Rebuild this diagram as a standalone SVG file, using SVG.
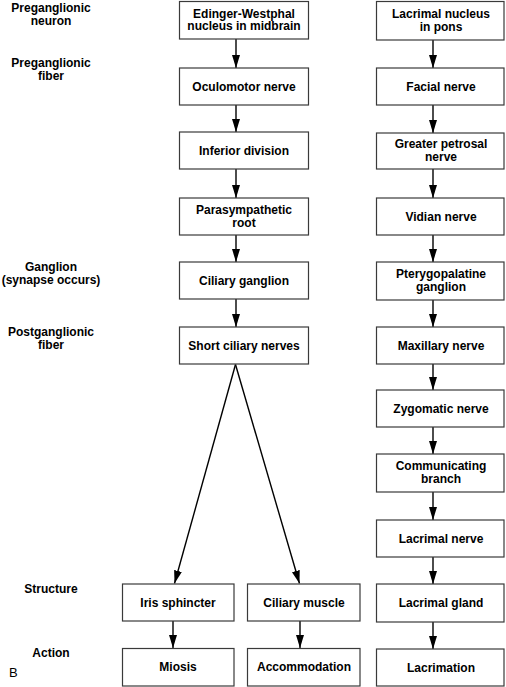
<svg xmlns="http://www.w3.org/2000/svg" width="506" height="687" viewBox="0 0 506 687">
<style>
  .box { fill: #fff; stroke: #3a3a3a; stroke-width: 1.2; }
  .t { font-family: "Liberation Sans", Arial, sans-serif; font-size: 12px; font-weight: bold; fill: #000; text-anchor: middle; }
  .lbl { font-family: "Liberation Sans", Arial, sans-serif; font-size: 12px; font-weight: bold; fill: #000; text-anchor: middle; }
  .conn { stroke: #000; stroke-width: 1.4; fill: none; marker-end: url(#ah); }
</style>
<defs>
  <marker id="ah" markerUnits="userSpaceOnUse" markerWidth="13" markerHeight="8" refX="13" refY="4" orient="auto">
    <path d="M0,0 L13,4 L0,8 z" fill="#000"/>
  </marker>
</defs>
<rect width="506" height="687" fill="#fff"/>

<g id="row-labels">
  <text class="lbl" x="51" y="12">Preganglionic</text>
  <text class="lbl" x="51" y="24.5">neuron</text>
  <text class="lbl" x="51" y="67">Preganglionic</text>
  <text class="lbl" x="51" y="79.5">fiber</text>
  <text class="lbl" x="51" y="271">Ganglion</text>
  <text class="lbl" x="51" y="284">(synapse occurs)</text>
  <text class="lbl" x="51" y="336">Postganglionic</text>
  <text class="lbl" x="51" y="348.7">fiber</text>
  <text class="lbl" x="51" y="592.6">Structure</text>
  <text class="lbl" x="51" y="657.3">Action</text>
  <text x="9" y="677" font-family="Liberation Sans, Arial, sans-serif" font-size="13" fill="#000">B</text>
</g>

<g id="connectors">
  <line class="conn" x1="236" y1="39" x2="236" y2="68"/>
  <line class="conn" x1="236" y1="105" x2="236" y2="132"/>
  <line class="conn" x1="236" y1="169" x2="236" y2="198"/>
  <line class="conn" x1="236" y1="235" x2="236" y2="262"/>
  <line class="conn" x1="236" y1="299" x2="236" y2="327"/>
  <line class="conn" x1="235.5" y1="364.5" x2="174.5" y2="583.5"/>
  <line class="conn" x1="235.5" y1="364.5" x2="299.5" y2="583.5"/>
  <line class="conn" x1="173" y1="621" x2="173" y2="648"/>
  <line class="conn" x1="300" y1="621" x2="300" y2="648"/>
  <line class="conn" x1="433" y1="40" x2="433" y2="68"/>
  <line class="conn" x1="433" y1="105" x2="433" y2="133"/>
  <line class="conn" x1="433" y1="169" x2="433" y2="198"/>
  <line class="conn" x1="433" y1="235" x2="433" y2="262"/>
  <line class="conn" x1="433" y1="300" x2="433" y2="327"/>
  <line class="conn" x1="433" y1="364" x2="433" y2="390"/>
  <line class="conn" x1="433" y1="427" x2="433" y2="454"/>
  <line class="conn" x1="433" y1="492" x2="433" y2="520"/>
  <line class="conn" x1="433" y1="557" x2="433" y2="584"/>
  <line class="conn" x1="433" y1="622" x2="433" y2="649"/>
</g>

<g id="n-ew"><rect class="box" x="179.5" y="1.5" width="129" height="37.5"/>
  <text class="t" x="244" y="17.5">Edinger-Westphal</text><text class="t" x="244" y="30">nucleus in midbrain</text></g>
<g id="n-oculomotor"><rect class="box" x="179.5" y="68" width="129" height="37"/>
  <text class="t" x="244" y="90.8">Oculomotor nerve</text></g>
<g id="n-inferior"><rect class="box" x="179.5" y="132" width="129" height="37"/>
  <text class="t" x="244" y="154.8">Inferior division</text></g>
<g id="n-pararoot"><rect class="box" x="179.5" y="198" width="129" height="37"/>
  <text class="t" x="244" y="213.5">Parasympathetic</text><text class="t" x="244" y="226.5">root</text></g>
<g id="n-ciliaryg"><rect class="box" x="179.5" y="262" width="129" height="37"/>
  <text class="t" x="244" y="284.8">Ciliary ganglion</text></g>
<g id="n-shortciliary"><rect class="box" x="179.5" y="327" width="129" height="37"/>
  <text class="t" x="244" y="349.8">Short ciliary nerves</text></g>
<g id="n-iris"><rect class="box" x="122.5" y="584" width="111.5" height="37"/>
  <text class="t" x="178" y="606.8">Iris sphincter</text></g>
<g id="n-ciliarym"><rect class="box" x="247.5" y="584" width="112.5" height="37"/>
  <text class="t" x="304" y="606.8">Ciliary muscle</text></g>
<g id="n-miosis"><rect class="box" x="122.5" y="648.5" width="111.5" height="37.5"/>
  <text class="t" x="178" y="671.3">Miosis</text></g>
<g id="n-accommodation"><rect class="box" x="247.5" y="648.5" width="112.5" height="37.5"/>
  <text class="t" x="304" y="671.3">Accommodation</text></g>

<g id="n-lacnucleus"><rect class="box" x="376.5" y="1.5" width="127.5" height="38.5"/>
  <text class="t" x="441" y="17.5">Lacrimal nucleus</text><text class="t" x="441" y="30.5">in pons</text></g>
<g id="n-facial"><rect class="box" x="376.5" y="68" width="127.5" height="37"/>
  <text class="t" x="441" y="90.8">Facial nerve</text></g>
<g id="n-gpetrosal"><rect class="box" x="376.5" y="133" width="127.5" height="36"/>
  <text class="t" x="441" y="148">Greater petrosal</text><text class="t" x="441" y="161">nerve</text></g>
<g id="n-vidian"><rect class="box" x="376.5" y="198" width="127.5" height="37"/>
  <text class="t" x="441" y="220.8">Vidian nerve</text></g>
<g id="n-ptery"><rect class="box" x="376.5" y="262" width="127.5" height="38"/>
  <text class="t" x="441" y="278">Pterygopalatine</text><text class="t" x="441" y="291">ganglion</text></g>
<g id="n-maxillary"><rect class="box" x="376.5" y="327" width="127.5" height="37"/>
  <text class="t" x="441" y="349.8">Maxillary nerve</text></g>
<g id="n-zygomatic"><rect class="box" x="376.5" y="390" width="127.5" height="37"/>
  <text class="t" x="441" y="412.8">Zygomatic nerve</text></g>
<g id="n-communicating"><rect class="box" x="376.5" y="454" width="127.5" height="38"/>
  <text class="t" x="441" y="470">Communicating</text><text class="t" x="441" y="483">branch</text></g>
<g id="n-lacnerve"><rect class="box" x="376.5" y="520" width="127.5" height="37"/>
  <text class="t" x="441" y="542.8">Lacrimal nerve</text></g>
<g id="n-lacgland"><rect class="box" x="376.5" y="584" width="127.5" height="38"/>
  <text class="t" x="441" y="607.3">Lacrimal gland</text></g>
<g id="n-lacrimation"><rect class="box" x="376.5" y="649" width="127.5" height="37"/>
  <text class="t" x="441" y="671.8">Lacrimation</text></g>
</svg>
